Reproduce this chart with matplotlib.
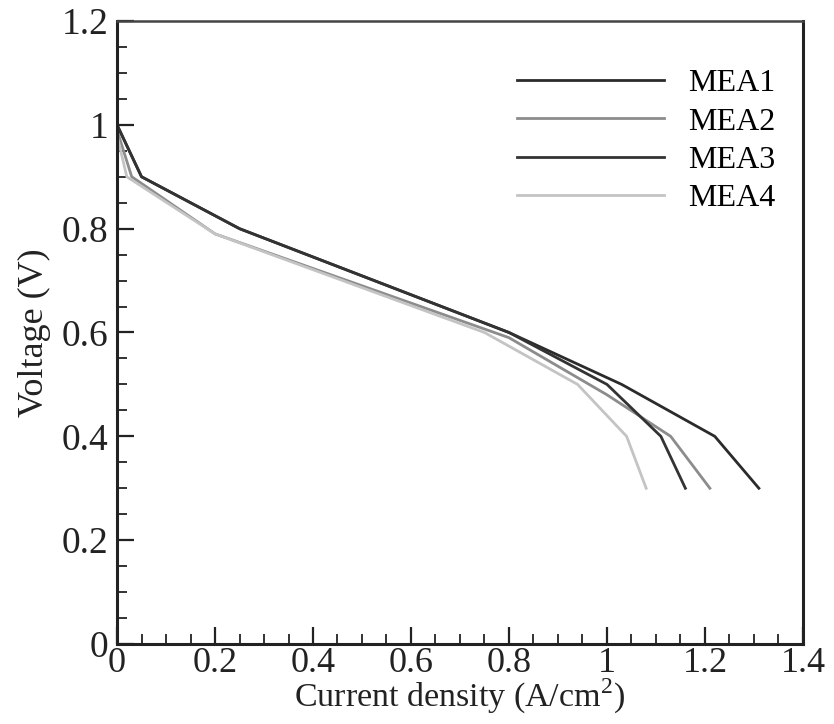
import matplotlib
matplotlib.use('Agg')
import matplotlib.pyplot as plt
from matplotlib.ticker import MultipleLocator, FormatStrFormatter

# polarization curves
mea1_i = [0.0, 0.05, 0.25, 0.8, 1.03, 1.22, 1.31]
mea1_v = [1.0, 0.90, 0.80, 0.60, 0.50, 0.40, 0.30]
mea2_i = [0.0, 0.03, 0.2, 0.8, 1.0, 1.13, 1.21]
mea2_v = [0.99, 0.90, 0.79, 0.59, 0.48, 0.40, 0.30]
mea3_i = [0.0, 0.05, 0.25, 0.8, 1.0, 1.11, 1.16]
mea3_v = [1.0, 0.90, 0.80, 0.60, 0.50, 0.40, 0.30]
mea4_i = [0.0, 0.02, 0.2, 0.75, 0.94, 1.04, 1.08]
mea4_v = [0.98, 0.90, 0.79, 0.60, 0.50, 0.40, 0.30]

labels = ['MEA1', 'MEA2', 'MEA3', 'MEA4']
colors = ['#2b2b2b', '#8c8c8c', '#333333', '#c4c4c4']

plt.rcParams['font.family'] = 'Liberation Serif'
plt.rcParams['mathtext.fontset'] = 'custom'
plt.rcParams['mathtext.rm'] = 'Liberation Serif'

fig = plt.figure(figsize=(8.34, 7.24), dpi=100)
ax = fig.add_axes([0.1403, 0.1105, 0.8225, 0.8605])

series = [(mea1_i, mea1_v), (mea2_i, mea2_v), (mea3_i, mea3_v), (mea4_i, mea4_v)]
for (x, y), lab, col in zip(series, labels, colors):
    ax.plot(x, y, color=col, lw=2.0, label=lab)

ax.set_xlim(0, 1.4)
ax.set_ylim(0, 1.2)
ax.xaxis.set_major_locator(MultipleLocator(0.2))
ax.xaxis.set_minor_locator(MultipleLocator(0.05))
ax.yaxis.set_major_locator(MultipleLocator(0.2))
ax.yaxis.set_minor_locator(MultipleLocator(0.05))
ax.xaxis.set_major_formatter(FormatStrFormatter('%g'))
ax.yaxis.set_major_formatter(FormatStrFormatter('%g'))
ax.tick_params(which='both', direction='in', top=False, right=False,
               labelsize=27, color='#222222', labelcolor='#222222')
ax.tick_params(which='major', length=12, width=1.6, pad=6)
ax.tick_params(axis='x', which='major', pad=2, labelsize=26)
ax.tick_params(which='minor', length=7.5, width=1.3)
for side in ['left', 'bottom', 'right']:
    ax.spines[side].set_linewidth(2.2)
    ax.spines[side].set_color('#222222')
ax.spines['top'].set_linewidth(1.8)
ax.spines['top'].set_color('#444444')

ax.set_xlabel('Current density (A/cm$^2$)', fontsize=24.5, labelpad=-2,
              color='#222222')
ax.set_ylabel('Voltage (V)', fontsize=26, labelpad=8, color='#222222')

ax.legend(loc='upper left', bbox_to_anchor=(517 / 834, 1 - 69 / 724),
          bbox_transform=fig.transFigure, frameon=False, fontsize=23,
          handlelength=4.6, handletextpad=0.75, labelspacing=0.28,
          borderpad=0, borderaxespad=0)

fig.savefig('out.png', dpi=100)
